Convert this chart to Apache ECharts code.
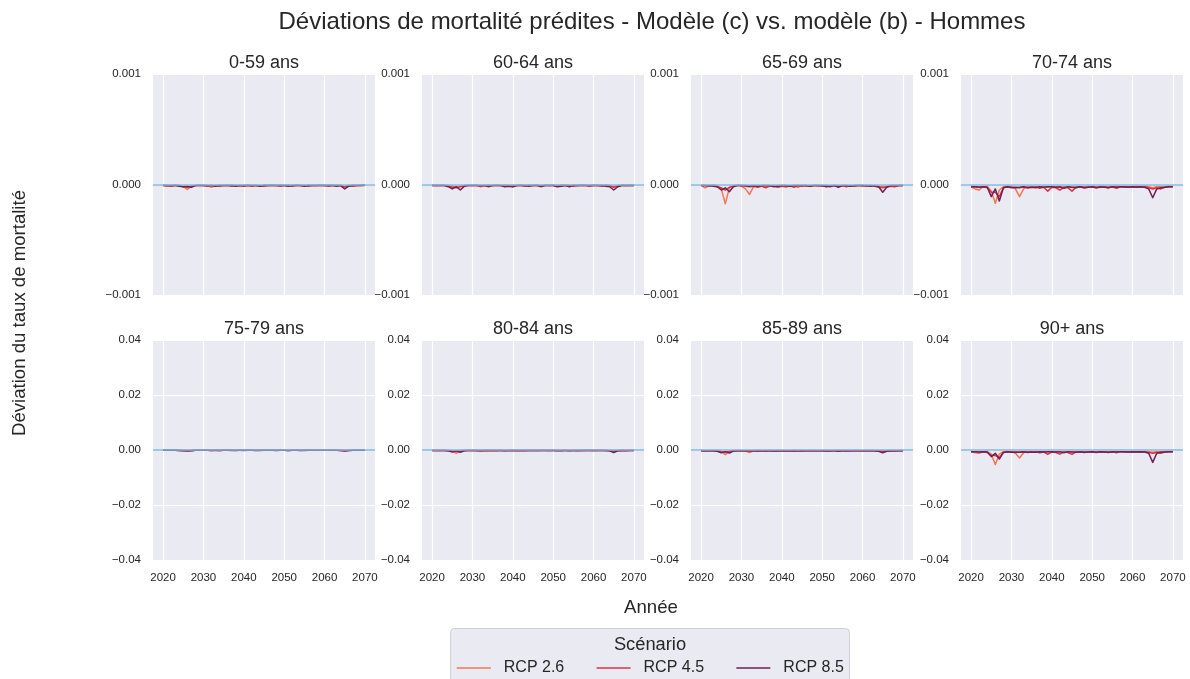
<!DOCTYPE html>
<html><head><meta charset="utf-8">
<script src="https://cdn.jsdelivr.net/npm/echarts@6/dist/echarts.min.js"></script>
<style>html,body{margin:0;padding:0;background:#fff}#c{width:1190px;height:679px}</style>
</head><body><div id="c"></div>
<script>
// ---------- DATA ----------
const years = [2020,2021,2022,2023,2024,2025,2026,2027,2028,2029,
  2030,2031,2032,2033,2034,2035,2036,2037,2038,2039,
  2040,2041,2042,2043,2044,2045,2046,2047,2048,2049,
  2050,2051,2052,2053,2054,2055,2056,2057,2058,2059,
  2060,2061,2062,2063,2064,2065,2066,2067,2068,2069,2070];
const xTickYears = [2020,2030,2040,2050,2060,2070];
const panelTitles = ['0-59 ans','60-64 ans','65-69 ans','70-74 ans','75-79 ans','80-84 ans','85-89 ans','90+ ans'];
const scenarios = ['RCP 2.6','RCP 4.5','RCP 8.5'];
const topRowTicks = [-0.001, 0, 0.001];
const bottomRowTicks = [-0.04, -0.02, 0, 0.02, 0.04];

// 0-59 ans
const dev_0_59_rcp26 = [-.5e-5,-1.5e-5,-1e-5,-.5e-5,-1e-5,-2e-5,-4.5e-5,-1.5e-5,-1e-5,-.5e-5,
 -1e-5,-1e-5,-2.5e-5,-1e-5,-.5e-5,-1e-5,-1e-5,-.5e-5,-1e-5,-1.5e-5,
 -1e-5,-.5e-5,-1e-5,-1e-5,-1.5e-5,-.5e-5,-1e-5,-.5e-5,-1e-5,-.5e-5,
 -1e-5,-.5e-5,-1e-5,-.5e-5,-1e-5,-1e-5,-.5e-5,-1e-5,-1e-5,-.5e-5,
 -1e-5,-.5e-5,-1e-5,-.5e-5,-1e-5,-2e-5,-1e-5,-.5e-5,-1e-5,-.5e-5,-.5e-5];
const dev_0_59_rcp45 = [-1e-5,-1e-5,-1.5e-5,-1e-5,-1e-5,-2e-5,-2.5e-5,-1.5e-5,-1e-5,-1e-5,
 -1e-5,-1.5e-5,-1e-5,-1e-5,-1.5e-5,-1e-5,-1e-5,-1.5e-5,-1e-5,-1e-5,
 -1.5e-5,-1e-5,-1.5e-5,-1e-5,-1e-5,-1.5e-5,-1e-5,-1e-5,-1e-5,-1.5e-5,
 -1e-5,-1e-5,-1.5e-5,-1e-5,-1e-5,-1e-5,-1.5e-5,-1e-5,-1e-5,-1e-5,
 -1e-5,-1.5e-5,-1e-5,-1e-5,-1e-5,-2e-5,-1e-5,-1.5e-5,-1e-5,-1e-5,-1e-5];
const dev_0_59_rcp85 = [-1e-5,-1e-5,-1e-5,-1e-5,-1.5e-5,-2e-5,-1.5e-5,-2.5e-5,-1e-5,-1e-5,
 -1e-5,-1e-5,-1e-5,-1.5e-5,-1e-5,-1e-5,-1e-5,-1e-5,-1.5e-5,-1e-5,
 -1e-5,-1e-5,-1e-5,-1e-5,-1.5e-5,-1e-5,-1e-5,-1e-5,-1e-5,-1e-5,
 -1e-5,-1.5e-5,-1e-5,-1e-5,-1e-5,-1.5e-5,-1e-5,-1e-5,-1e-5,-1e-5,
 -1e-5,-1e-5,-1e-5,-1.5e-5,-1e-5,-4e-5,-1.5e-5,-1e-5,-1e-5,-1e-5,-.5e-5];

// 60-64 ans
const dev_60_64_rcp26 = [-.5e-5,-1e-5,-.5e-5,-.5e-5,-1e-5,-1.5e-5,-2.5e-5,-1.5e-5,-1e-5,-.5e-5,
 -1e-5,-.5e-5,-2e-5,-1e-5,-.5e-5,-1e-5,-.5e-5,-1e-5,-.5e-5,-1e-5,
 -.5e-5,-1e-5,-.5e-5,-1e-5,-.5e-5,-1e-5,-.5e-5,-1e-5,-.5e-5,-1e-5,
 -.5e-5,-1e-5,-.5e-5,-.5e-5,-1e-5,-.5e-5,-1e-5,-.5e-5,-.5e-5,-1e-5,
 -.5e-5,-1e-5,-.5e-5,-.5e-5,-1e-5,-2e-5,-1e-5,-.5e-5,-1e-5,-.5e-5,-.5e-5];
const dev_60_64_rcp45 = [-1e-5,-1e-5,-1e-5,-1e-5,-1.5e-5,-2.5e-5,-3e-5,-2e-5,-1e-5,-1e-5,
 -1e-5,-1e-5,-1.5e-5,-1e-5,-2e-5,-1e-5,-1e-5,-1e-5,-1.5e-5,-1e-5,
 -2e-5,-1e-5,-1e-5,-1.5e-5,-1e-5,-1e-5,-1e-5,-2e-5,-1e-5,-1e-5,
 -1e-5,-1.5e-5,-1e-5,-1e-5,-1e-5,-1.5e-5,-1e-5,-1e-5,-1e-5,-1.5e-5,
 -1e-5,-1e-5,-1.5e-5,-1e-5,-1e-5,-2.5e-5,-1.5e-5,-1e-5,-1e-5,-1e-5,-1e-5];
const dev_60_64_rcp85 = [-1e-5,-1e-5,-1e-5,-1e-5,-2e-5,-4e-5,-2e-5,-5e-5,-1.5e-5,-1e-5,
 -1e-5,-1e-5,-1e-5,-1e-5,-1.5e-5,-1e-5,-1e-5,-1e-5,-2e-5,-1.5e-5,
 -2e-5,-1e-5,-1e-5,-1e-5,-1.5e-5,-1e-5,-1e-5,-1.5e-5,-1e-5,-1e-5,
 -1e-5,-2e-5,-1.5e-5,-1e-5,-2e-5,-1e-5,-1e-5,-1e-5,-1e-5,-1e-5,
 -1e-5,-1e-5,-1e-5,-1.5e-5,-2e-5,-5e-5,-2e-5,-1e-5,-1e-5,-1e-5,-1e-5];

// 65-69 ans
const dev_65_69_rcp26 = [-.5e-5,-3e-5,-1e-5,-.5e-5,-1e-5,-4e-5,-17.5e-5,-3e-5,-1e-5,-.5e-5,
 -1.5e-5,-4e-5,-9e-5,-2e-5,-1e-5,-1.5e-5,-2e-5,-1e-5,-1.5e-5,-1e-5,
 -1e-5,-2e-5,-1.5e-5,-1e-5,-2.5e-5,-1e-5,-1.5e-5,-1e-5,-1e-5,-1.5e-5,
 -1e-5,-1e-5,-1.5e-5,-1e-5,-1e-5,-1.5e-5,-1e-5,-1.5e-5,-1e-5,-1e-5,
 -1.5e-5,-1e-5,-1e-5,-1.5e-5,-2.5e-5,-1.5e-5,-2e-5,-1e-5,-1.5e-5,-1e-5,-1e-5];
const dev_65_69_rcp45 = [-1e-5,-1e-5,-1.5e-5,-1e-5,-2e-5,-3e-5,-5e-5,-2.5e-5,-1.5e-5,-1e-5,
 -1e-5,-1.5e-5,-2e-5,-1.5e-5,-2.5e-5,-1.5e-5,-3e-5,-1.5e-5,-1e-5,-2.5e-5,
 -1.5e-5,-2e-5,-1e-5,-2.5e-5,-1e-5,-1.5e-5,-1e-5,-1.5e-5,-1e-5,-1e-5,
 -1.5e-5,-1e-5,-2e-5,-1e-5,-1.5e-5,-1e-5,-2e-5,-1e-5,-1.5e-5,-1e-5,
 -1e-5,-1.5e-5,-1e-5,-1.5e-5,-2e-5,-3e-5,-2e-5,-1.5e-5,-2e-5,-1e-5,-1e-5];
const dev_65_69_rcp85 = [-1e-5,-1e-5,-1e-5,-1.5e-5,-2e-5,-5e-5,-3e-5,-6.5e-5,-2e-5,-1e-5,
 -1e-5,-1e-5,-1.5e-5,-1e-5,-1.5e-5,-1e-5,-1e-5,-1e-5,-2e-5,-1.5e-5,
 -1e-5,-1e-5,-1.5e-5,-1e-5,-1e-5,-1e-5,-1e-5,-1.5e-5,-1e-5,-1e-5,
 -1e-5,-2e-5,-1.5e-5,-1e-5,-2.5e-5,-1e-5,-1e-5,-1.5e-5,-1e-5,-1e-5,
 -1e-5,-1e-5,-1.5e-5,-1e-5,-2e-5,-7e-5,-2.5e-5,-1e-5,-1e-5,-1e-5,-1e-5];

// 70-74 ans
const dev_70_74_rcp26 = [-2e-5,-4e-5,-5e-5,-2e-5,-1.5e-5,-6e-5,-17e-5,-5e-5,-2e-5,-1.5e-5,
 -2e-5,-4e-5,-11e-5,-4e-5,-2e-5,-2e-5,-2.5e-5,-2e-5,-2e-5,-2.5e-5,
 -2e-5,-2e-5,-2.5e-5,-2e-5,-2e-5,-2.5e-5,-2e-5,-2e-5,-2e-5,-2e-5,
 -2e-5,-2e-5,-2.5e-5,-2e-5,-2e-5,-2e-5,-1.5e-5,-2e-5,-2e-5,-2.5e-5,
 -2e-5,-1.5e-5,-2e-5,-1.5e-5,-2e-5,-3e-5,-2e-5,-2e-5,-2.5e-5,-1.5e-5,-1.5e-5];
const dev_70_74_rcp45 = [-2e-5,-2e-5,-2.5e-5,-2e-5,-3e-5,-7e-5,-7e-5,-11e-5,-3e-5,-2e-5,
 -2.5e-5,-3e-5,-2.5e-5,-2e-5,-3e-5,-2.5e-5,-2e-5,-3.5e-5,-2.5e-5,-6e-5,
 -2.5e-5,-3e-5,-5e-5,-2.5e-5,-3e-5,-6e-5,-2.5e-5,-2e-5,-3e-5,-2.5e-5,
 -2e-5,-3e-5,-2.5e-5,-2e-5,-3e-5,-2e-5,-3.5e-5,-2e-5,-2.5e-5,-2e-5,
 -2.5e-5,-2e-5,-2.5e-5,-2e-5,-3e-5,-4e-5,-3e-5,-4e-5,-2.5e-5,-2e-5,-2e-5];
const dev_70_74_rcp85 = [-2e-5,-2e-5,-2.5e-5,-2e-5,-2.5e-5,-11e-5,-4e-5,-15e-5,-3e-5,-2e-5,
 -3e-5,-2.5e-5,-3e-5,-2e-5,-3e-5,-2.5e-5,-3e-5,-2e-5,-2.5e-5,-2e-5,
 -2e-5,-2.5e-5,-2e-5,-3.5e-5,-2e-5,-2.5e-5,-3e-5,-2e-5,-3e-5,-2.5e-5,
 -2e-5,-3e-5,-2e-5,-2.5e-5,-3e-5,-2e-5,-2.5e-5,-2e-5,-2e-5,-2.5e-5,
 -2e-5,-2.5e-5,-2e-5,-2.5e-5,-4e-5,-12e-5,-4e-5,-3e-5,-2.5e-5,-2e-5,-2e-5];

// 75-79 ans
const dev_75_79_rcp26 = [-.5e-4,-1e-4,-1e-4,-.5e-4,-1e-4,-2e-4,-4e-4,-1.5e-4,-1e-4,-.5e-4,
 -1e-4,-1e-4,-2.5e-4,-1e-4,-.5e-4,-1e-4,-1e-4,-.5e-4,-1e-4,-1e-4,
 -.5e-4,-1e-4,-1e-4,-.5e-4,-1e-4,-1e-4,-.5e-4,-1e-4,-1e-4,-.5e-4,
 -1e-4,-.5e-4,-1e-4,-1e-4,-.5e-4,-1e-4,-.5e-4,-1e-4,-1e-4,-.5e-4,
 -1e-4,-.5e-4,-1e-4,-.5e-4,-1e-4,-2e-4,-1e-4,-.5e-4,-1e-4,-.5e-4,-.5e-4];
const dev_75_79_rcp45 = [-1e-4,-1e-4,-1e-4,-1e-4,-1.5e-4,-2e-4,-2.5e-4,-1.5e-4,-1e-4,-1e-4,
 -1e-4,-1e-4,-1.5e-4,-1e-4,-1.5e-4,-1e-4,-1e-4,-1.5e-4,-1e-4,-1e-4,
 -1.5e-4,-1e-4,-1e-4,-1e-4,-1.5e-4,-1e-4,-1e-4,-1e-4,-1e-4,-1e-4,
 -1e-4,-1.5e-4,-1e-4,-1e-4,-1e-4,-1.5e-4,-1e-4,-1e-4,-1e-4,-1e-4,
 -1e-4,-1e-4,-1e-4,-1e-4,-1.5e-4,-2e-4,-1.5e-4,-1e-4,-1e-4,-1e-4,-1e-4];
const dev_75_79_rcp85 = [-1e-4,-1e-4,-1e-4,-1e-4,-1.5e-4,-2.5e-4,-1.5e-4,-3e-4,-1e-4,-1e-4,
 -1e-4,-1e-4,-1e-4,-1e-4,-1.5e-4,-1e-4,-1e-4,-1e-4,-1.5e-4,-1e-4,
 -1e-4,-1e-4,-1e-4,-1.5e-4,-1e-4,-1e-4,-1e-4,-1e-4,-1.5e-4,-1e-4,
 -1e-4,-1.5e-4,-1e-4,-1e-4,-1.5e-4,-1e-4,-1e-4,-1e-4,-1e-4,-1e-4,
 -1e-4,-1e-4,-1e-4,-1e-4,-1.5e-4,-4e-4,-1.5e-4,-1e-4,-1e-4,-1e-4,-1e-4];

// 80-84 ans
const dev_80_84_rcp26 = [-1e-4,-2e-4,-1.5e-4,-1e-4,-1.5e-4,-3e-4,-12e-4,-3e-4,-1.5e-4,-1e-4,
 -1.5e-4,-2.5e-4,-5e-4,-2e-4,-1e-4,-1.5e-4,-1.5e-4,-1e-4,-1.5e-4,-1e-4,
 -1e-4,-1.5e-4,-1.5e-4,-1e-4,-1.5e-4,-1e-4,-1.5e-4,-1e-4,-1e-4,-1.5e-4,
 -1e-4,-1e-4,-1.5e-4,-1e-4,-1e-4,-1.5e-4,-1e-4,-1.5e-4,-1e-4,-1e-4,
 -1.5e-4,-1e-4,-1e-4,-1.5e-4,-2e-4,-1.5e-4,-2e-4,-1e-4,-1.5e-4,-1e-4,-1e-4];
const dev_80_84_rcp45 = [-1.5e-4,-1.5e-4,-2e-4,-1.5e-4,-2.5e-4,-4e-4,-5e-4,-3e-4,-2e-4,-1.5e-4,
 -1.5e-4,-2e-4,-2.5e-4,-2e-4,-3e-4,-2e-4,-3e-4,-2e-4,-1.5e-4,-3e-4,
 -2e-4,-2.5e-4,-1.5e-4,-3e-4,-1.5e-4,-2e-4,-1.5e-4,-2e-4,-1.5e-4,-1.5e-4,
 -2e-4,-1.5e-4,-2.5e-4,-1.5e-4,-2e-4,-1.5e-4,-2.5e-4,-1.5e-4,-2e-4,-1.5e-4,
 -1.5e-4,-2e-4,-1.5e-4,-2e-4,-2.5e-4,-3.5e-4,-2.5e-4,-2e-4,-2.5e-4,-1.5e-4,-1.5e-4];
const dev_80_84_rcp85 = [-1.5e-4,-1.5e-4,-1.5e-4,-2e-4,-3e-4,-7e-4,-4e-4,-8e-4,-2.5e-4,-1.5e-4,
 -1.5e-4,-1.5e-4,-2e-4,-1.5e-4,-2e-4,-1.5e-4,-1.5e-4,-1.5e-4,-2.5e-4,-2e-4,
 -1.5e-4,-1.5e-4,-2e-4,-1.5e-4,-1.5e-4,-1.5e-4,-1.5e-4,-2e-4,-1.5e-4,-1.5e-4,
 -1.5e-4,-2.5e-4,-2e-4,-1.5e-4,-3e-4,-1.5e-4,-1.5e-4,-2e-4,-1.5e-4,-1.5e-4,
 -1.5e-4,-1.5e-4,-2e-4,-1.5e-4,-3e-4,-9e-4,-3e-4,-1.5e-4,-1.5e-4,-1.5e-4,-1.5e-4];

// 85-89 ans
const dev_85_89_rcp26 = [-2e-4,-3.5e-4,-3e-4,-1.5e-4,-2.5e-4,-5e-4,-17e-4,-5e-4,-2.5e-4,-2e-4,
 -2.5e-4,-4e-4,-9e-4,-3e-4,-2e-4,-2.5e-4,-2.5e-4,-2e-4,-2.5e-4,-2e-4,
 -2e-4,-2.5e-4,-2.5e-4,-2e-4,-2.5e-4,-2e-4,-2.5e-4,-2e-4,-2e-4,-2.5e-4,
 -2e-4,-2e-4,-2.5e-4,-2e-4,-2e-4,-2.5e-4,-2e-4,-2.5e-4,-2e-4,-2e-4,
 -2.5e-4,-2e-4,-2e-4,-2.5e-4,-3e-4,-2.5e-4,-3e-4,-2e-4,-2.5e-4,-2e-4,-2e-4];
const dev_85_89_rcp45 = [-2.5e-4,-2.5e-4,-3e-4,-2.5e-4,-3.5e-4,-6e-4,-7e-4,-5e-4,-3e-4,-2.5e-4,
 -2.5e-4,-3e-4,-4e-4,-3e-4,-4.5e-4,-3e-4,-4.5e-4,-3e-4,-2.5e-4,-4.5e-4,
 -3e-4,-4e-4,-2.5e-4,-4.5e-4,-2.5e-4,-3.5e-4,-2.5e-4,-3e-4,-2.5e-4,-2.5e-4,
 -3e-4,-2.5e-4,-4e-4,-2.5e-4,-3e-4,-2.5e-4,-4e-4,-2.5e-4,-3e-4,-2.5e-4,
 -2.5e-4,-3e-4,-2.5e-4,-3e-4,-4e-4,-5e-4,-4e-4,-3e-4,-3.5e-4,-2.5e-4,-2.5e-4];
const dev_85_89_rcp85 = [-2.5e-4,-2.5e-4,-2.5e-4,-3e-4,-4.5e-4,-10e-4,-6e-4,-11e-4,-4e-4,-2.5e-4,
 -2.5e-4,-2.5e-4,-3e-4,-2.5e-4,-3e-4,-2.5e-4,-2.5e-4,-2.5e-4,-4e-4,-3e-4,
 -2.5e-4,-2.5e-4,-3e-4,-2.5e-4,-2.5e-4,-2.5e-4,-2.5e-4,-3e-4,-2.5e-4,-2.5e-4,
 -2.5e-4,-4e-4,-3e-4,-2.5e-4,-4.5e-4,-2.5e-4,-2.5e-4,-3e-4,-2.5e-4,-2.5e-4,
 -2.5e-4,-2.5e-4,-3e-4,-2.5e-4,-4.5e-4,-10e-4,-4.5e-4,-2.5e-4,-2.5e-4,-2.5e-4,-2.5e-4];

// 90+ ans
const dev_90p_rcp26 = [-6e-4,-10e-4,-12e-4,-6e-4,-5e-4,-15e-4,-53e-4,-15e-4,-6e-4,-5e-4,
 -6e-4,-12e-4,-29e-4,-10e-4,-6e-4,-6e-4,-7e-4,-6e-4,-6e-4,-7e-4,
 -6e-4,-6e-4,-7e-4,-6e-4,-6e-4,-7e-4,-6e-4,-6e-4,-6e-4,-6e-4,
 -6e-4,-6e-4,-7e-4,-6e-4,-6e-4,-6e-4,-5e-4,-6e-4,-6e-4,-7e-4,
 -6e-4,-5e-4,-6e-4,-5e-4,-6e-4,-8e-4,-6e-4,-6e-4,-7e-4,-5e-4,-5e-4];
const dev_90p_rcp45 = [-6e-4,-6e-4,-7e-4,-6e-4,-9e-4,-20e-4,-20e-4,-28e-4,-9e-4,-6e-4,
 -7e-4,-9e-4,-7e-4,-6e-4,-9e-4,-7e-4,-6e-4,-10e-4,-7e-4,-16e-4,
 -7e-4,-9e-4,-15e-4,-7e-4,-9e-4,-16e-4,-7e-4,-6e-4,-9e-4,-7e-4,
 -6e-4,-9e-4,-7e-4,-6e-4,-9e-4,-6e-4,-10e-4,-6e-4,-7e-4,-6e-4,
 -7e-4,-6e-4,-7e-4,-6e-4,-9e-4,-12e-4,-9e-4,-12e-4,-7e-4,-6e-4,-6e-4];
const dev_90p_rcp85 = [-6e-4,-6e-4,-7e-4,-6e-4,-7e-4,-24e-4,-12e-4,-33e-4,-9e-4,-6e-4,
 -8e-4,-7e-4,-8e-4,-6e-4,-8e-4,-7e-4,-8e-4,-6e-4,-7e-4,-6e-4,
 -6e-4,-7e-4,-6e-4,-10e-4,-6e-4,-7e-4,-8e-4,-6e-4,-8e-4,-7e-4,
 -6e-4,-8e-4,-6e-4,-7e-4,-8e-4,-6e-4,-7e-4,-6e-4,-6e-4,-7e-4,
 -6e-4,-7e-4,-6e-4,-7e-4,-12e-4,-45e-4,-12e-4,-8e-4,-7e-4,-6e-4,-6e-4];

const panelSeries = [
  [dev_0_59_rcp26, dev_0_59_rcp45, dev_0_59_rcp85],
  [dev_60_64_rcp26, dev_60_64_rcp45, dev_60_64_rcp85],
  [dev_65_69_rcp26, dev_65_69_rcp45, dev_65_69_rcp85],
  [dev_70_74_rcp26, dev_70_74_rcp45, dev_70_74_rcp85],
  [dev_75_79_rcp26, dev_75_79_rcp45, dev_75_79_rcp85],
  [dev_80_84_rcp26, dev_80_84_rcp45, dev_80_84_rcp85],
  [dev_85_89_rcp26, dev_85_89_rcp45, dev_85_89_rcp85],
  [dev_90p_rcp26, dev_90p_rcp45, dev_90p_rcp85]
];

// ---------- STYLE / LAYOUT ----------
const FONT = "'Liberation Sans', Arial, sans-serif";
const TXT = '#262626';
const colors = ['#f37651', '#e13342', '#701f57'];
const ZERO = '#80bae0';
const panelLefts = [153, 422, 691, 961];
const panelW = 222;
const rowTops = [74, 340];
const rowH = [221, 220];

const grids = [], xAxes = [], yAxes = [], series = [], graphics = [];
for (let p = 0; p < 8; p++) {
  const row = p < 4 ? 0 : 1, col = p % 4;
  const ticks = row === 0 ? topRowTicks : bottomRowTicks;
  const dec = row === 0 ? 3 : 2;
  grids.push({left: panelLefts[col], top: rowTops[row], width: panelW, height: rowH[row],
    show: true, backgroundColor: '#eaeaf2', borderWidth: 0});
  xAxes.push({gridIndex: p, type: 'value', min: 2017.5, max: 2072.5,
    axisLine: {show: false},
    axisTick: {show: false, customValues: xTickYears},
    axisLabel: {show: row === 1, customValues: xTickYears, formatter: v => String(v),
      fontSize: 11.5, color: TXT, fontFamily: FONT, margin: 12},
    splitLine: {show: true, lineStyle: {color: '#ffffff', width: 1.2}}});
  yAxes.push({gridIndex: p, type: 'value', min: ticks[0], max: ticks[ticks.length - 1],
    interval: ticks[1] - ticks[0],
    axisLine: {show: false}, axisTick: {show: false},
    axisLabel: {fontSize: 11.5, color: TXT, fontFamily: FONT, margin: 12,
      formatter: v => (v < -1e-12 ? '\u2212' : '') + Math.abs(v).toFixed(dec)},
    splitLine: {show: true, lineStyle: {color: '#ffffff', width: 1.2}}});
  for (let s = 0; s < 3; s++) {
    const vals = panelSeries[p][s];
    series.push({type: 'line', name: scenarios[s], xAxisIndex: p, yAxisIndex: p,
      data: years.map((y, k) => [y, vals[k]]), symbol: 'none', showSymbol: false,
      lineStyle: {color: colors[s], width: 1.5, join: 'round'}, itemStyle: {color: colors[s]},
      z: 2 + s, animation: false, emphasis: {disabled: true}});
  }
  series.push({type: 'line', name: '_zero' + p, xAxisIndex: p, yAxisIndex: p, data: [],
    symbol: 'none', silent: true, animation: false,
    markLine: {silent: true, symbol: ['none', 'none'], label: {show: false}, animation: false,
      lineStyle: {color: ZERO, width: 1.6, type: 'solid'}, emphasis: {disabled: true},
      data: [{yAxis: 0}]}});
  graphics.push({type: 'text', x: panelLefts[col] + panelW / 2, y: rowTops[row] - 11,
    style: {text: panelTitles[p], fontSize: 18, fontFamily: FONT, fill: TXT,
      align: 'center', verticalAlign: 'middle'}});
}

graphics.push({type: 'text', x: 652, y: 22,
  style: {text: 'Déviations de mortalité prédites - Modèle (c) vs. modèle (b) - Hommes',
    fontSize: 24, fontFamily: FONT, fill: TXT, align: 'center', verticalAlign: 'middle'}});
graphics.push({type: 'text', x: 651, y: 608,
  style: {text: 'Année', fontSize: 18.6, fontFamily: FONT, fill: TXT, align: 'center', verticalAlign: 'middle'}});
graphics.push({type: 'text', x: 20, y: 313, rotation: Math.PI / 2,
  style: {text: 'Déviation du taux de mortalité', fontSize: 18.6, fontFamily: FONT, fill: TXT,
    align: 'center', verticalAlign: 'middle'}});
graphics.push({type: 'rect', z: -1, shape: {x: 450.5, y: 628.5, width: 399, height: 70, r: 4},
  style: {fill: '#eaeaf2', stroke: '#cfcfd6', lineWidth: 1}});
graphics.push({type: 'text', x: 650, y: 645,
  style: {text: 'Scénario', fontSize: 18.3, fontFamily: FONT, fill: TXT, align: 'center', verticalAlign: 'middle'}});

const option = {
  animation: false,
  backgroundColor: '#ffffff',
  grid: grids, xAxis: xAxes, yAxis: yAxes, series: series,
  legend: {data: scenarios, left: 451, top: 655, itemWidth: 34, itemHeight: 14, itemGap: 31.5,
    selectedMode: false, itemStyle: {opacity: 0}, lineStyle: {width: 1.6, opacity: 1},
    textStyle: {fontSize: 16, color: TXT, fontFamily: FONT, padding: [0, 0, 0, 8]}},
  graphic: graphics
};
const chart = echarts.init(document.getElementById('c'));
chart.setOption(option);
</script></body></html>
